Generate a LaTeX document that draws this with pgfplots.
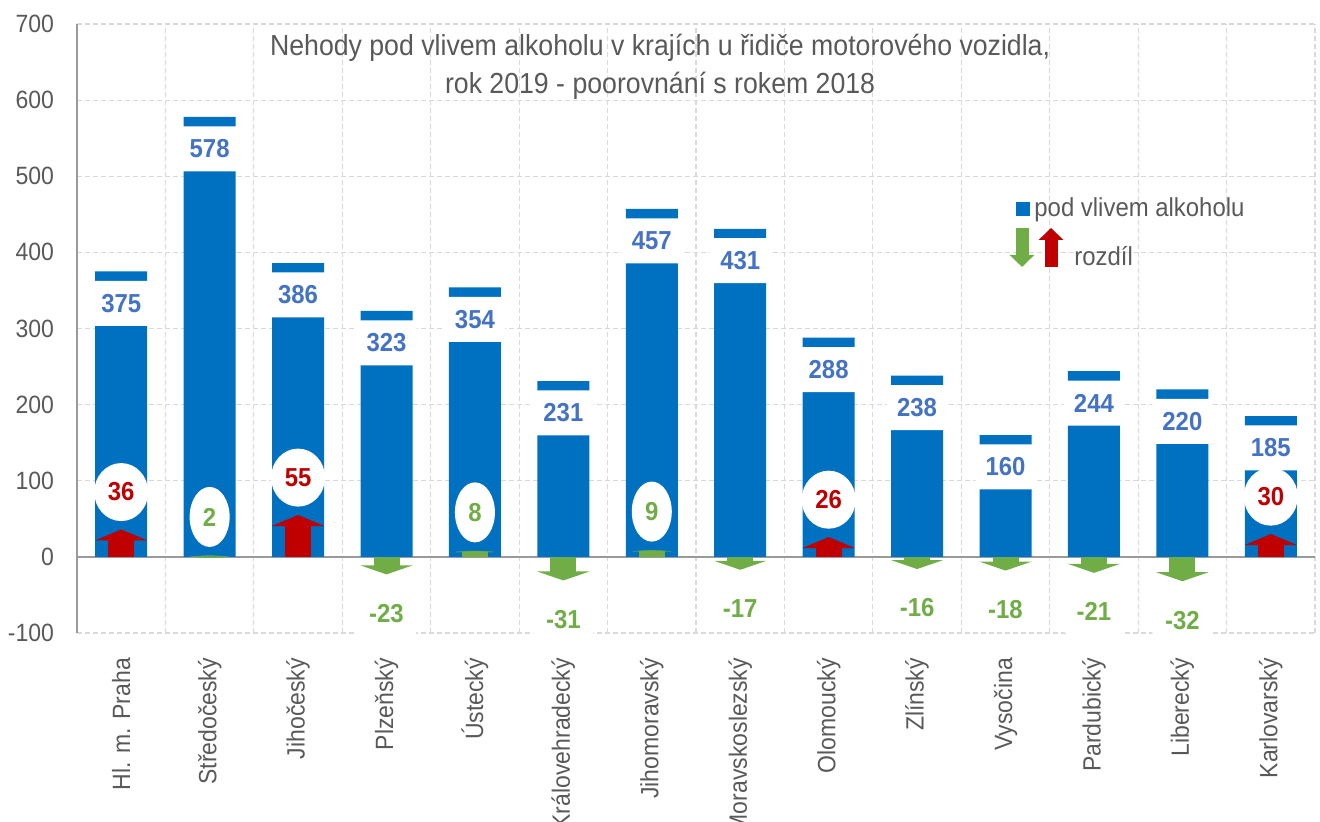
\documentclass[border=0pt]{standalone}
\usepackage{pgfplots}
\pgfplotsset{compat=1.18}
\usepackage{fontspec}
\setmainfont{Liberation Sans}[FakeStretch=0.92]
\usetikzlibrary{arrows.meta,shapes.geometric}

\definecolor{barblue}{HTML}{0070C0}
\definecolor{lblue}{HTML}{4472C4}
\definecolor{arrred}{HTML}{C00000}
\definecolor{arrgreen}{HTML}{70AD47}
\definecolor{textgray}{HTML}{595959}
\definecolor{gridgray}{HTML}{D9D9D9}
\definecolor{axisgray}{HTML}{9A9A9A}

\begin{document}
\begin{tikzpicture}
\begin{axis}[
    scale only axis,
    width=619pt, height=304.5pt,
    xmin=-0.5, xmax=13.5,
    ymin=-100, ymax=700,
    ytick={-100,0,...,700},
    xtick={0,...,13},
    xticklabels={Hl. m. Praha, Středočeský, Jihočeský, Plzeňský, Ústecký,
      Královehradecký, Jihomoravský, Moravskoslezský, Olomoucký, Zlínský,
      Vysočina, Pardubický, Liberecký, Karlovarský},
    minor xtick={0.5,1.5,...,13.5},
    xminorgrids, ymajorgrids,
    grid style={dash pattern=on 2.5pt off 1.5pt, draw=gridgray, line width=0.6pt},
    major tick length=0pt, minor tick length=0pt,
    separate axis lines,
    x axis line style={draw=none},
    axis y line*=left,
    y axis line style={draw=axisgray, line width=0.8pt},
    /pgf/number format/assume math mode=true,
    yticklabel style={font=\fontsize{12.5}{15}\selectfont, text=textgray},
    yticklabel shift=8pt,
    xticklabel style={font=\fontsize{12.5}{15}\selectfont, text=textgray, rotate=90, anchor=east},
    xticklabel shift=9pt,
    extra y ticks={0}, extra y tick labels={},
    extra y tick style={ymajorgrids, major grid style={solid, draw=axisgray, line width=0.8pt}},
    title={Nehody pod vlivem alkoholu v krajích u řidiče motorového vozidla,\\rok 2019 - poorovnání s rokem 2018},
    title style={at={(0.471,0.975)}, anchor=north, align=center,
      font=\fontsize{14.5}{19}\selectfont, text=textgray},
    legend style={at={(0.753,0.728)}, anchor=north west, draw=none, fill=none,
      font=\fontsize{13}{15.5}\selectfont, text=textgray, row sep=9pt},
    legend cell align=left,
]

% bars
\addplot[ybar, bar width=26pt, fill=barblue, draw=none,
  legend image code/.code={\fill[barblue] (0pt,-3.5pt) rectangle (7pt,3.5pt);}]
  coordinates {(0,375) (1,578) (2,386) (3,323) (4,354) (5,231) (6,457)
    (7,431) (8,288) (9,238) (10,160) (11,244) (12,220) (13,185)};
\addlegendentry{pod vlivem alkoholu}

% value labels
\addplot[draw=none, mark=none, forget plot, nodes near coords,
  point meta=explicit symbolic,
  nodes near coords style={anchor=north, yshift=-4.5pt, fill=white,
    rounded corners=2pt, minimum width=30pt, minimum height=22.5pt,
    inner sep=0pt, text=lblue, font=\bfseries\fontsize{13}{15}\selectfont}]
  coordinates {(0,375)[375] (1,578)[578] (2,386)[386] (3,323)[323] (4,354)[354]
    (5,231)[231] (6,457)[457] (7,431)[431] (8,288)[288] (9,238)[238]
    (10,160)[160] (11,244)[244] (12,220)[220] (13,185)[185]};

% arrows: red increases
\addplot[forget plot, quiver={u=0, v=\thisrow{d}}, draw=arrred, line width=13pt,
  -{Triangle[width=26pt, length=5.5pt]}]
  table {
x y d
0 0 36
2 0 55
8 0 26
13 0 30
};
% small increases
\addplot[forget plot, quiver={u=0, v=\thisrow{d}}, draw=arrgreen, line width=13pt,
  -{Triangle[width=26pt, length=0.7pt]}]
  table {
x y d
1 0 2
4 0 8
6 0 9
};
% decreases
\addplot[forget plot, quiver={u=0, v=\thisrow{d}}, draw=arrgreen, line width=13pt,
  -{Triangle[width=26pt, length=4.5pt]}]
  table {
x y d
3 0 -23
5 0 -31
7 0 -17
9 0 -16
10 0 -18
11 0 -21
12 0 -32
};

% difference labels
\addplot[draw=none, mark=none, forget plot, nodes near coords,
  point meta=explicit symbolic,
  nodes near coords style={anchor=south, yshift=4pt, fill=white, ellipse,
    minimum width=27pt, minimum height=29pt, inner sep=0pt,
    text=arrred, font=\bfseries\fontsize{13}{15}\selectfont}]
  coordinates {(0,36)[36] (2,55)[55] (8,26)[26] (13,30)[30]};
\addplot[draw=none, mark=none, forget plot, nodes near coords,
  point meta=explicit symbolic,
  nodes near coords style={anchor=south, yshift=4pt, fill=white, ellipse,
    minimum width=20pt, minimum height=30pt, inner sep=0pt,
    text=arrgreen, font=\bfseries\fontsize{13}{15}\selectfont}]
  coordinates {(1,2)[2] (4,8)[8] (6,9)[9]};
\addplot[draw=none, mark=none, forget plot, nodes near coords,
  point meta=explicit symbolic,
  nodes near coords style={anchor=north, yshift=-8pt, fill=white,
    rounded corners=2pt, minimum width=30pt, minimum height=22.5pt, inner sep=0pt,
    text=arrgreen, font=\bfseries\fontsize{13}{15}\selectfont}]
  coordinates {(3,-23)[-23] (5,-31)[-31] (7,-17)[-17] (9,-16)[-16]
    (10,-18)[-18] (11,-21)[-21] (12,-32)[-32]};

\addlegendimage{legend image code/.code={
  \path (0pt,0pt) rectangle (7pt,0pt);
  \draw[overlay, arrgreen, line width=6.5pt, -{Triangle[width=12pt, length=6pt]}] (3pt,14.5pt) -- (3pt,-5pt);
  \draw[overlay, arrred, line width=6.5pt, -{Triangle[width=12pt, length=6pt]}] (17.5pt,-5pt) -- (17.5pt,14.5pt);
}}
\addlegendentry{\hspace*{20pt}rozdíl}
\end{axis}
\pgfresetboundingbox
\path[use as bounding box] ([xshift=-38.5pt,yshift=-94.5pt]current axis.south west)
  rectangle ([xshift=2.5pt,yshift=12pt]current axis.north east);
\end{tikzpicture}
\end{document}
